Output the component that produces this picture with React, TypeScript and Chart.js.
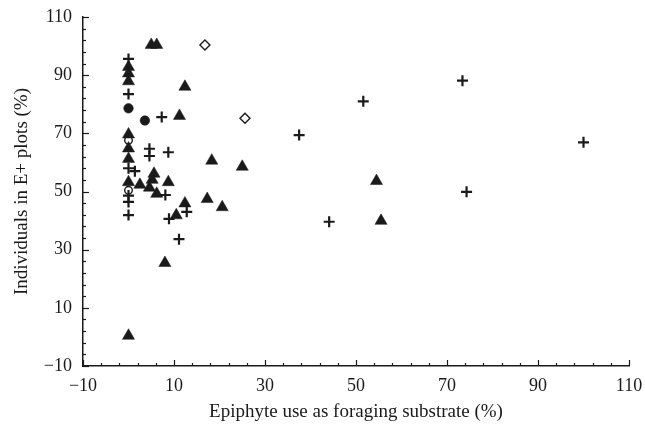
import React, { useEffect, useRef } from "react";
import { Chart, registerables } from "chart.js";

Chart.register(...registerables);

// Tick labels
const xTickValues = [-10, 10, 30, 50, 70, 90, 110];
const yTickValues = [-10, 10, 30, 50, 70, 90, 110];
const minorStep = 4;

// Filled triangles
const triangleData: [number, number][] = [
  [5, 100.4], [6.2, 100.4], [0, 92.8], [0, 90.6], [0, 87.9], [12.4, 86],
  [11.2, 76], [0, 69.6], [0, 64.8], [0, 61.2], [0, 53.2], [18.3, 60.6],
  [25, 58.5], [5.6, 56.1], [5.2, 54], [2.5, 52.3], [4.6, 51.3], [6.2, 49.2],
  [8.75, 53.2], [12.4, 45.9], [17.3, 47.4], [20.6, 44.6], [10.5, 41.8],
  [8, 25.4], [0, 0.4], [54.5, 53.6], [55.5, 39.9],
];

// Plus signs
const plusData: [number, number][] = [
  [0, 95.6], [0, 83.5], [7.3, 75.6], [4.6, 64.7], [4.6, 62.2], [8.75, 63.5],
  [0, 58], [1.4, 57], [0, 48.6], [0, 46.4], [0, 41.9], [8.1, 48.8],
  [12.8, 43], [8.9, 40.6], [11.1, 33.6], [37.5, 69.4], [51.6, 81],
  [73.4, 88.1], [100, 66.9], [74.3, 49.9], [44.1, 39.6],
];

// Filled circles
const filledCircleData: [number, number][] = [
  [0, 78.6], [3.6, 74.4],
];

// Open diamonds
const openDiamondData: [number, number][] = [
  [16.8, 100.4], [25.6, 75.2],
];

// Open circles
const openCircleData: [number, number][] = [
  [0, 67.6], [0, 50.4],
];

const INK = "#1a1a1a";
const FONT = "'Liberation Serif', 'Times New Roman', serif";

const toPoints = (d: [number, number][]) => d.map(([x, y]) => ({ x, y }));

const fmt = (v: any) => (Number(v) < 0 ? "\u2212" + Math.abs(Number(v)) : String(v));

const innerTicks = {
  id: "innerTicks",
  afterDraw(chart: any) {
    const { ctx, chartArea } = chart;
    const xs = chart.scales.x;
    const ys = chart.scales.y;
    ctx.save();
    ctx.strokeStyle = INK;
    ctx.lineWidth = 1.2;
    const x0 = xTickValues[0];
    const x1 = xTickValues[xTickValues.length - 1];
    const majorX = xTickValues[1] - xTickValues[0];
    for (let v = x0; v <= x1 + 0.001; v += minorStep) {
      const major = Math.abs((v - x0) % majorX) < 0.001;
      const len = major ? 6 : 3;
      const px = Math.round(xs.getPixelForValue(v)) + 0.5;
      ctx.beginPath();
      ctx.moveTo(px, chartArea.bottom);
      ctx.lineTo(px, chartArea.bottom - len);
      ctx.stroke();
    }
    const y0 = yTickValues[0];
    const y1 = yTickValues[yTickValues.length - 1];
    const majorY = yTickValues[1] - yTickValues[0];
    for (let v = y0; v <= y1 + 0.001; v += minorStep) {
      const major = Math.abs((v - y0) % majorY) < 0.001;
      const len = major ? 6 : 3;
      const py = Math.round(ys.getPixelForValue(v)) + 0.5;
      ctx.beginPath();
      ctx.moveTo(chartArea.left, py);
      ctx.lineTo(chartArea.left + len, py);
      ctx.stroke();
    }
    ctx.restore();
  },
};

export default function App() {
  const canvasRef = useRef<HTMLCanvasElement | null>(null);

  useEffect(() => {
    if (!canvasRef.current) return;
    const chart = new Chart(canvasRef.current, {
      type: "scatter",
      data: {
        datasets: [
          {
            label: "triangles",
            data: toPoints(triangleData),
            pointStyle: "triangle",
            pointRadius: 7,
            backgroundColor: INK,
            borderColor: INK,
            borderWidth: 0.5,
          },
          {
            label: "plus",
            data: toPoints(plusData),
            pointStyle: "cross",
            pointRadius: 5.5,
            backgroundColor: INK,
            borderColor: INK,
            borderWidth: 2.2,
          },
          {
            label: "filled circles",
            data: toPoints(filledCircleData),
            pointStyle: "circle",
            pointRadius: 4.8,
            backgroundColor: INK,
            borderColor: INK,
            borderWidth: 0.5,
          },
          {
            label: "open diamonds",
            data: toPoints(openDiamondData),
            pointStyle: "rectRot",
            pointRadius: 5,
            backgroundColor: "#ffffff",
            borderColor: INK,
            borderWidth: 1.4,
          },
          {
            label: "open circles",
            data: toPoints(openCircleData),
            pointStyle: "circle",
            pointRadius: 3.8,
            backgroundColor: "#ffffff",
            borderColor: INK,
            borderWidth: 1.4,
          },
        ],
      },
      options: {
        responsive: false,
        animation: false,
        devicePixelRatio: 1,
        layout: { padding: { left: 0, right: 16, top: 17, bottom: 0 } },
        plugins: {
          legend: { display: false },
          tooltip: { enabled: false },
        },
        scales: {
          x: {
            type: "linear",
            min: xTickValues[0],
            max: xTickValues[xTickValues.length - 1],
            afterBuildTicks: (scale: any) => {
              scale.ticks = xTickValues.map((v) => ({ value: v }));
            },
            afterFit: (scale: any) => {
              scale.height = 61;
              scale.paddingLeft = 0;
              scale.paddingRight = 0;
            },
            grid: { display: false, drawTicks: false },
            border: { display: true, color: INK, width: 1.5 },
            ticks: {
              color: INK,
              padding: 9,
              maxRotation: 0,
              font: { family: FONT, size: 18 },
              callback: fmt,
            },
            title: {
              display: true,
              text: "Epiphyte use as foraging substrate (%)",
              color: INK,
              font: { family: FONT, size: 19 },
              padding: { top: 0, bottom: 4 },
            },
          },
          y: {
            type: "linear",
            min: yTickValues[0],
            max: yTickValues[yTickValues.length - 1],
            afterBuildTicks: (scale: any) => {
              scale.ticks = yTickValues.map((v) => ({ value: v }));
            },
            afterFit: (scale: any) => {
              scale.width = 83;
              scale.paddingTop = 0;
              scale.paddingBottom = 0;
            },
            grid: { display: false, drawTicks: false },
            border: { display: true, color: INK, width: 1.5 },
            ticks: {
              color: INK,
              padding: 11,
              font: { family: FONT, size: 18 },
              callback: fmt,
            },
            title: {
              display: true,
              text: "Individuals in E+ plots (%)",
              color: INK,
              font: { family: FONT, size: 19 },
              padding: { top: 11, bottom: 0 },
            },
          },
        },
      },
      plugins: [innerTicks],
    } as any);
    return () => chart.destroy();
  }, []);

  return (
    <div style={{ position: "fixed", left: 0, top: 0, width: 645, height: 427, background: "#fff" }}>
      <canvas ref={canvasRef} width={645} height={427} style={{ display: "block" }} />
    </div>
  );
}
